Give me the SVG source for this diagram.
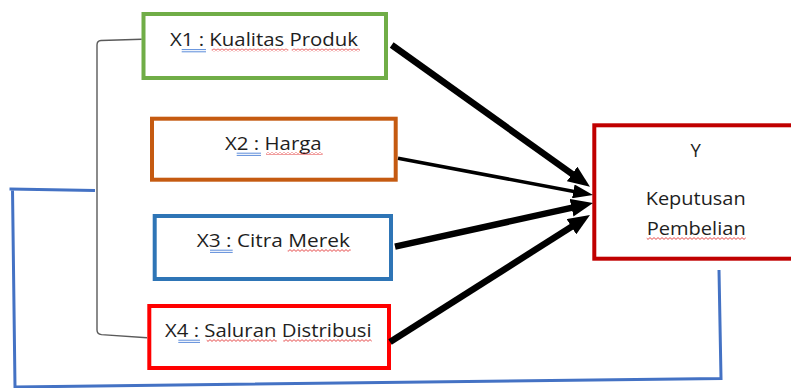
<svg xmlns="http://www.w3.org/2000/svg" width="791" height="388" viewBox="0 0 791 388">
  <style>
    .box { fill: #ffffff; stroke-width: 4; }
    .lbl { font-family: "Open Sans", "Liberation Sans", sans-serif; font-size: 18.5px; fill: #1e1e1e; }
    .arrow { stroke: #000000; fill: none; stroke-linecap: butt; }
    .blank { fill: url(#spell); }
    .gram { stroke: #4a7fd6; stroke-width: 0.9; fill: none; }
  </style>
  <defs>
    <marker id="head" markerUnits="userSpaceOnUse" viewBox="0 0 22 18" markerWidth="22" markerHeight="18" refX="2" refY="9" orient="auto">
      <path d="M0,0 L22,9 L0,18 z" fill="#000000"/>
    </marker>
    <marker id="headSmall" markerUnits="userSpaceOnUse" viewBox="0 0 20 14" markerWidth="20" markerHeight="14" refX="2" refY="7" orient="auto">
      <path d="M0,0 L20,7 L0,14 z" fill="#000000"/>
    </marker>
    <pattern id="spell" width="4" height="3" patternUnits="userSpaceOnUse">
      <path d="M0,2.4 L2,0.6 L4,2.4" stroke="#e02020" stroke-width="0.8" fill="none"/>
    </pattern>
  </defs>

  <!-- bracket grouping the four factors -->
  <path d="M141.7,39.3 L101,40.5 Q97,40.8 97,45 L97,330 Q97,334 101.5,334.6 L147,337.7" fill="none" stroke="#5a5a5a" stroke-width="1.4"/>

  <!-- feedback outline -->
  <path d="M95,190.5 L9.5,189 M12.5,189 L15,387 L721,378.5 L719,270" fill="none" stroke="#4472c4" stroke-width="3"/>

  <g id="x1">
    <rect class="box" x="143.5" y="14" width="242.5" height="64" stroke="#70ad47"/>
    <text class="lbl" x="170" y="45.7" textLength="188" lengthAdjust="spacingAndGlyphs">X1 : Kualitas Produk</text>
    <path class="gram" d="M181.7,49.6 H206 M181.7,51.8 H206"/>
    <rect class="blank" x="211.7" y="48.5" width="76.6" height="3"/>
    <rect class="blank" x="291.7" y="48.5" width="68.3" height="3"/>
  </g>

  <g id="x2">
    <rect class="box" x="152" y="118.7" width="243.7" height="61" stroke="#c55a11"/>
    <text class="lbl" x="225" y="150" textLength="96.7" lengthAdjust="spacingAndGlyphs">X2 : Harga</text>
    <path class="gram" d="M236.7,153.2 H261 M236.7,155.4 H261"/>
    <rect class="blank" x="266" y="152" width="56.7" height="3"/>
  </g>

  <g id="x3">
    <rect class="box" x="154.7" y="216" width="236.3" height="63" stroke="#2e75b6"/>
    <text class="lbl" x="196.7" y="246.7" textLength="153.3" lengthAdjust="spacingAndGlyphs">X3 : Citra Merek</text>
    <path class="gram" d="M210,250.2 H232.7 M210,252.4 H232.7"/>
    <rect class="blank" x="287.7" y="249" width="63" height="3"/>
  </g>

  <g id="x4">
    <rect class="box" x="149.3" y="306" width="239.7" height="62" stroke="#ff0000"/>
    <text class="lbl" x="165" y="336.7" textLength="206.7" lengthAdjust="spacingAndGlyphs">X4 : Saluran Distribusi</text>
    <path class="gram" d="M178.3,340.2 H200 M178.3,342.4 H200"/>
    <rect class="blank" x="206.7" y="339" width="70" height="3"/>
    <rect class="blank" x="283.3" y="339" width="88.4" height="3"/>
  </g>

  <g id="y">
    <rect class="box" x="594.3" y="125.3" width="205" height="133.4" stroke="#c00000"/>
    <text class="lbl" x="695.7" y="156.7" text-anchor="middle">Y</text>
    <text class="lbl" x="645.7" y="205" textLength="100" lengthAdjust="spacingAndGlyphs">Keputusan</text>
    <text class="lbl" x="646.7" y="235" textLength="99" lengthAdjust="spacingAndGlyphs">Pembelian</text>
    <rect class="blank" x="646.7" y="237" width="99" height="3"/>
  </g>

  <g id="connectors">
    <line class="arrow" x1="391.7" y1="45" x2="573.7" y2="175.1" stroke-width="6.5" marker-end="url(#head)"/>
    <line class="arrow" x1="398" y1="158.3" x2="575.3" y2="191.7" stroke-width="3.5" marker-end="url(#headSmall)"/>
    <line class="arrow" x1="395" y1="246.7" x2="573.5" y2="207.3" stroke-width="6.5" marker-end="url(#head)"/>
    <line class="arrow" x1="390" y1="342" x2="573.1" y2="225.7" stroke-width="6.5" marker-end="url(#head)"/>
  </g>
</svg>
